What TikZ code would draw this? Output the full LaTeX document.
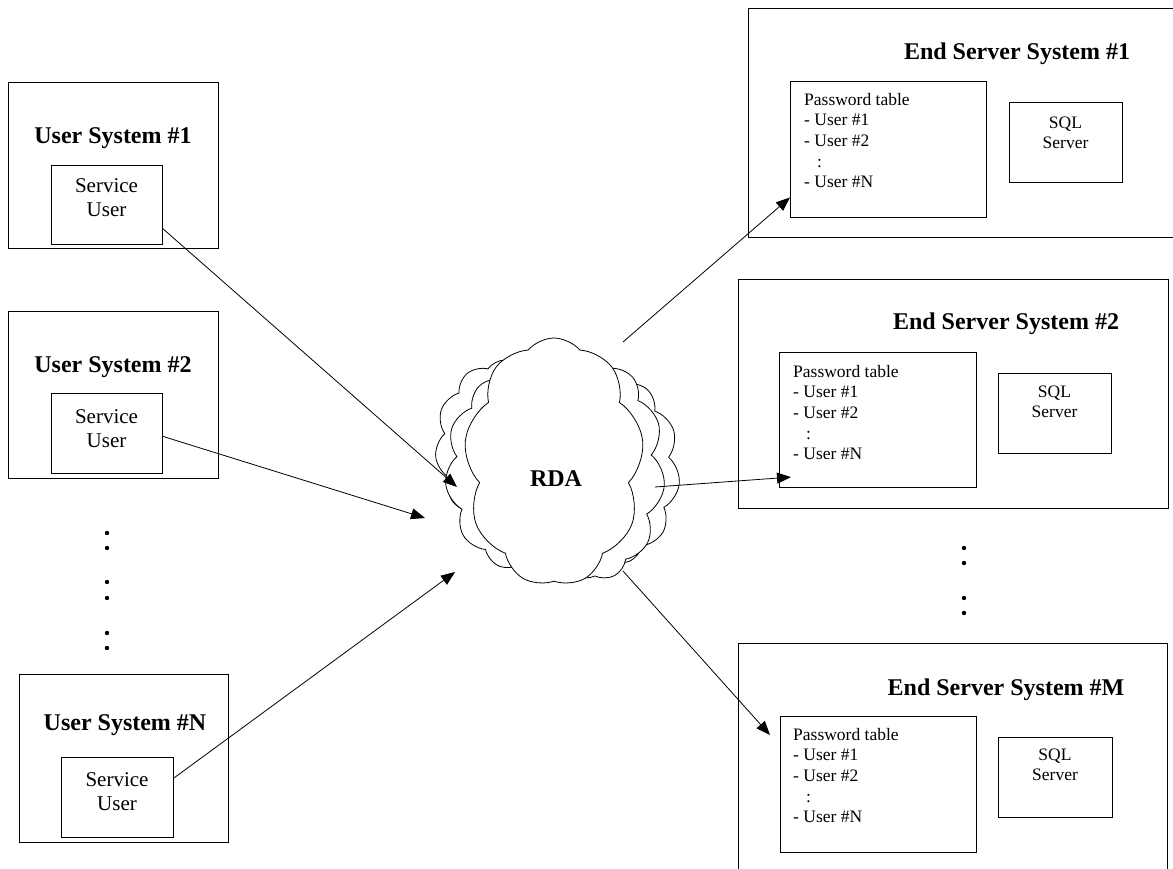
\documentclass[tikz,border=0pt]{standalone}
\usepackage{fontspec}
\setmainfont{Liberation Serif}
\usetikzlibrary{arrows.meta, positioning, shapes.symbols, calc}

\begin{document}
\begin{tikzpicture}[
  x=1pt, y=-1pt,
  box/.style n args={2}{draw, line width=0.9pt, anchor=north west, inner sep=0pt,
              minimum width=#1, minimum height=#2},
  title/.style={anchor=base, inner sep=0pt, font=\fontsize{24}{28}\selectfont\bfseries},
  svc/.style={anchor=north, inner sep=0pt, align=center, font=\fontsize{21}{24.5}\selectfont},
  pwd/.style={anchor=north west, inner sep=0pt, align=left, font=\fontsize{17.5}{20.6}\selectfont},
  sql/.style={anchor=north, inner sep=0pt, align=center, font=\fontsize{17.5}{20}\selectfont},
  cloudy/.style={cloud, draw, fill=white, cloud puffs=11, cloud puff arc=110,
              inner sep=0pt, line width=0.8pt},
  arr/.style={-{Triangle[length=14pt, width=11pt]}, line width=0.8pt}
]
  \useasboundingbox (0,0) rectangle (1173,869);
  \clip (0,0) rectangle (1173,869);

  % user systems
  \node[box={210}{166}] (us1) at (8,82) {};
  \node[box={111}{79}] (su1) at (51,165) {};
  \node[title] (us1t) at (113,144) {User System \#1};
  \node[svc] (su1t) at (106.5,178) {Service\\User};

  \node[box={210}{167}] (us2) at (8,311) {};
  \node[box={111}{80}] (su2) at (51,393) {};
  \node[title] (us2t) at (113,372) {User System \#2};
  \node[svc] (su2t) at (106.5,409) {Service\\User};

  \node[box={209}{168}] (usn) at (19,674) {};
  \node[box={112}{80}] (sun) at (61,757) {};
  \node[title] (usnt) at (125,730) {User System \#N};
  \node[svc] (sunt) at (117,772) {Service\\User};

  \foreach \y in {533,548,582,598,633,648}
    \fill (107,\y) circle[radius=2.2pt];

  % end servers
  \node[box={440}{229}] (es1) at (748,8) {};
  \node[title] (es1t) at (1017,60) {End Server System \#1};
  \node[box={196}{136}] (pw1) at (790,81) {};
  \node[pwd] (pw1t) at (804,93) {Password table\\- User \#1\\- User \#2\\\hspace*{13pt}:\\- User \#N};
  \node[box={113}{80}] (sq1) at (1009,102) {};
  \node[sql] (sq1t) at (1065.5,116.5) {SQL\\Server};

  \node[box={430}{229}] (es2) at (738,279) {};
  \node[title] (es2t) at (1006,329) {End Server System \#2};
  \node[box={197}{135}] (pw2) at (779,352) {};
  \node[pwd] (pw2t) at (793,365) {Password table\\- User \#1\\- User \#2\\\hspace*{13pt}:\\- User \#N};
  \node[box={113}{80}] (sq2) at (998,373) {};
  \node[sql] (sq2t) at (1054.5,385.5) {SQL\\Server};

  \foreach \y in {548,563,598,613}
    \fill (964,\y) circle[radius=2.2pt];

  \node[box={429}{260}] (esm) at (738,643) {};
  \node[title] (esmt) at (1006,695) {End Server System \#M};
  \node[box={196}{136}] (pwm) at (780,716) {};
  \node[pwd] (pwmt) at (793,728) {Password table\\- User \#1\\- User \#2\\\hspace*{13pt}:\\- User \#N};
  \node[box={114}{80}] (sqm) at (998,737) {};
  \node[sql] (sqmt) at (1055,748.5) {SQL\\Server};

  % cloud
  \node[cloudy, minimum width=140, minimum height=170] (rdal2) at (505,445) {};
  \node[cloudy, minimum width=150, minimum height=200] (rdal1) at (520,470) {};
  \node[cloudy, minimum width=140, minimum height=190] (rdar2) at (610,470) {};
  \node[cloudy, minimum width=140, minimum height=220] (rdar1) at (595,470) {};
  \node[cloudy, cloud puffs=9, cloud puff arc=100,
        minimum width=180, minimum height=248] (rdac) at (554,462) {};
  \node[title] (rda) at (556,486) {RDA};

  \coordinate (in1) at (457,487);
  \coordinate (in2) at (425,518);
  \coordinate (in3) at (455,572);
  \coordinate (out1) at (623,342);
  \coordinate (out2) at (655,487);
  \coordinate (out3) at (623,571);

  \draw[arr] (su1.-23) -- (in1);
  \draw[arr] (su2.-3) -- (in2);
  \draw[arr] (sun.19) -- (in3);
  \draw[arr] (out1) -- (pw1.206);
  \draw[arr] (out2) -- ($(pw2.210)+(12,0)$);
  \draw[arr] (out3) -- ($(pwm.north west)+(-10,19)$);
\end{tikzpicture}
\end{document}
